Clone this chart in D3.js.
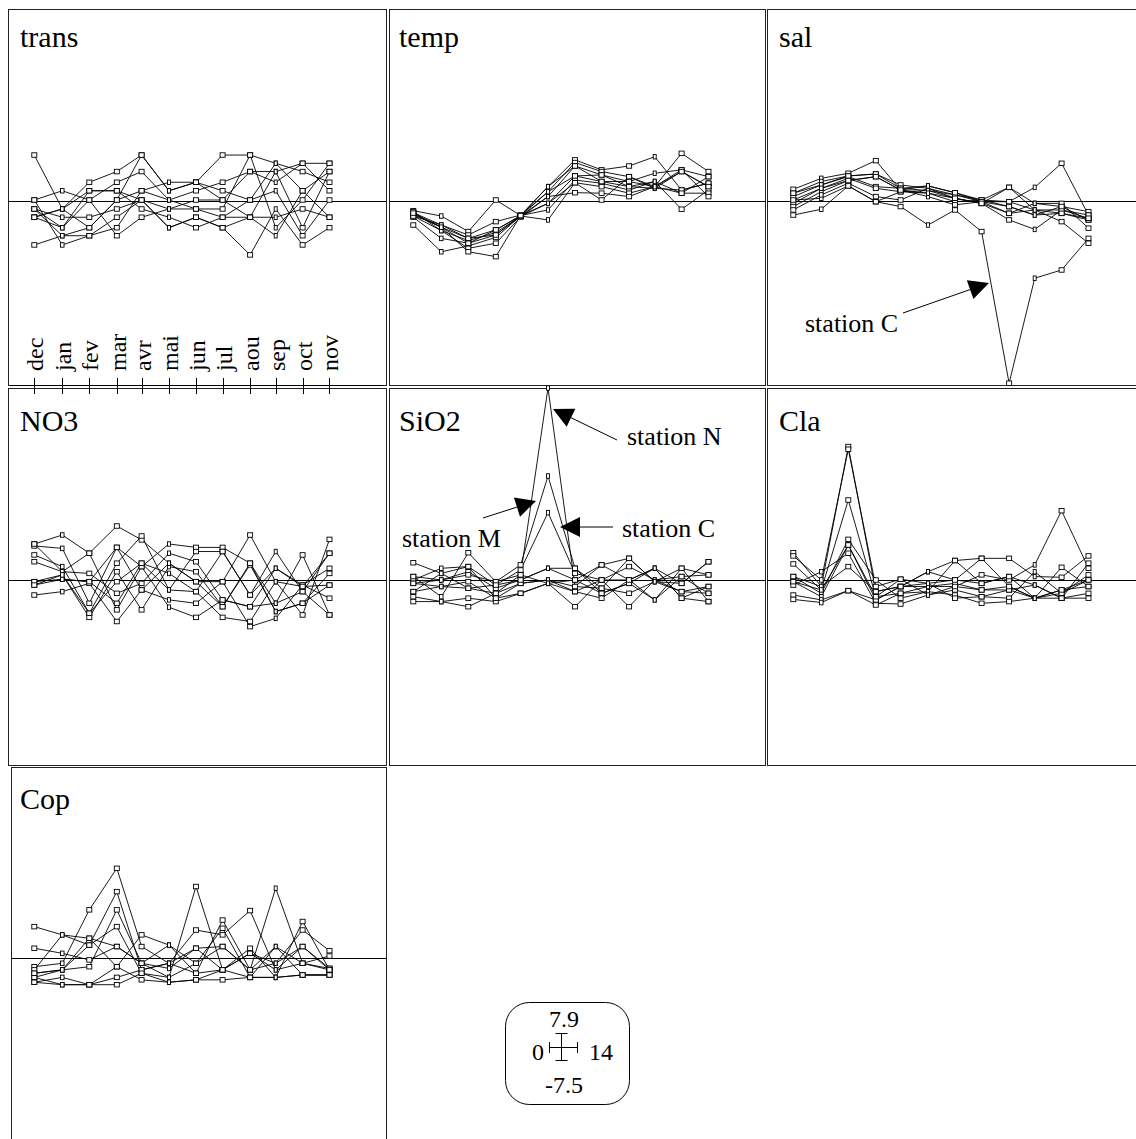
<!DOCTYPE html>
<html>
<head>
<meta charset="utf-8">
<script src="https://cdn.jsdelivr.net/npm/d3@7"></script>
<style>
  body { margin: 0; background: #fff; }
  svg { display: block; }
  text { font-family: "Liberation Serif", "Times New Roman", Times, serif; fill: #000; }
</style>
</head>
<body>
<svg id="chart" width="1136" height="1139"></svg>
<script>
// Sampling months and their position on the time axis (0..14)
const months = ["dec", "jan", "fev", "mar", "avr", "mai", "jun", "jul", "aou", "sep", "oct", "nov"];
const monthTimes = [0.974, 2.011, 3.011, 4.03, 4.948, 5.963, 6.963, 7.948, 8.967, 9.915, 10.911, 11.907];

// Standardised values, one row per station, one column per month
const trans = [
  [1.89, -0.33, 0.77, 1.21, 1.89, 0.42, 0.77, 1.89, 1.89, 1.55, 0.42, 1.21],
  [0.04, 0.42, 0.04, 0.77, 1.21, 0.04, 0.42, 0.77, 1.21, 1.21, 1.55, 1.55],
  [0.04, -1.81, -1.43, -1.10, 0.42, 0.77, 0.77, 0.42, 0.04, 1.55, 1.21, 0.77],
  [-0.33, -1.43, -1.10, 0.04, 1.89, 0.42, 0.77, 0.04, -0.67, 1.21, -1.10, 1.21],
  [-0.33, -0.67, -0.67, -0.33, 0.04, -0.33, 0.04, 0.04, 1.21, 0.77, 1.55, 0.42],
  [-0.67, -0.33, 0.42, 0.42, -0.33, -0.67, -1.10, -0.67, 0.04, 0.42, -1.43, 0.04],
  [-0.67, -1.10, 0.42, 0.42, 0.04, -1.10, -0.67, -1.10, -2.22, -0.33, -1.81, -1.10],
  [-1.81, -1.43, -1.43, -0.67, 0.04, -1.10, -0.67, -1.10, -0.67, -0.67, -0.33, -0.67],
  [-0.33, -1.10, 0.04, -1.43, -0.67, -0.33, -0.33, -0.33, 1.89, -1.10, 0.04, 1.55],
  [-0.67, -0.33, -1.10, 0.04, 0.42, 0.04, -0.33, -0.67, -0.67, -1.43, 0.42, -0.67]
];
const temp = [
  [-0.40, -0.62, -1.26, 0.04, -0.60, 0.59, 1.69, 1.28, 1.44, 1.82, 0.45, 0.73],
  [-0.48, -0.99, -1.40, -0.85, -0.58, 0.38, 1.58, 1.21, 1.00, 0.59, 1.96, 1.21],
  [-0.53, -1.08, -1.54, -1.19, -0.62, 0.18, 1.44, 1.07, 0.80, 1.14, 1.28, 1.00],
  [-0.62, -1.22, -1.63, -1.30, -0.64, -0.10, 1.03, 0.80, 0.59, 0.52, 1.21, 0.59],
  [-0.67, -1.54, -1.74, -1.40, -0.60, -0.37, 0.86, 0.73, 0.45, 0.80, -0.34, 0.45],
  [-0.99, -2.09, -1.85, -1.50, -0.62, -0.78, 0.75, 0.59, 0.32, 0.59, 0.32, 0.32],
  [-0.45, -1.22, -1.95, -1.74, -0.66, 0.18, 0.34, 0.32, 0.18, 0.59, 1.28, 0.18],
  [-0.55, -1.08, -2.09, -2.29, -0.60, -0.10, 0.75, 0.04, 1.00, 0.52, 0.45, 0.73],
  [-0.62, -0.99, -1.54, -1.40, -0.62, 0.38, 1.03, 1.07, 0.59, 0.80, 0.32, 1.00],
  [-0.50, -1.08, -1.74, -1.19, -0.60, 0.59, 1.44, 0.80, 0.80, 0.59, 1.21, 0.59]
];
const sal = [
  [0.48, 0.93, 1.14, 1.66, 0.45, 0.62, 0.34, 0.04, 0.56, -0.10, -0.23, -0.44],
  [0.32, 0.80, 1.03, 1.11, 0.66, 0.52, 0.25, -0.03, -0.03, 0.56, 1.55, -0.58],
  [0.04, 0.11, 0.62, -0.03, -0.23, -0.99, -0.37, -1.26, -7.50, -3.18, -2.84, -1.54],
  [0.18, 0.66, 1.00, 0.59, 0.52, 0.43, 0.11, -0.10, 0.56, -0.37, -0.37, -0.71],
  [-0.10, 0.52, 0.93, 0.52, 0.38, 0.32, -0.03, 0.04, -0.23, -0.58, -0.51, -0.78],
  [-0.23, 0.38, 0.84, 1.00, 0.45, 0.18, -0.16, -0.03, -0.51, -0.10, -0.10, -1.12],
  [-0.37, 0.25, 0.73, 0.18, 0.04, 0.52, 0.11, -0.10, -0.78, -1.17, -0.37, -0.58],
  [-0.58, -0.34, 0.62, -0.03, 0.38, 0.43, 0.25, 0.04, -0.03, -0.37, -0.85, -1.74],
  [0.32, 0.66, 1.03, 1.11, 0.52, 0.62, 0.34, -0.03, -0.23, -0.58, -0.23, -0.78],
  [0.04, 0.52, 0.84, 1.00, 0.45, 0.32, 0.11, -0.10, -0.51, -0.37, -0.51, -0.71]
];
const no3 = [
  [1.48, 1.85, 1.10, 2.22, 1.65, 0.69, -0.07, -0.07, 1.85, -0.07, -1.44, 1.67],
  [1.40, 1.30, -0.96, 1.34, 0.55, 1.48, 1.34, 1.34, 0.69, -0.96, 1.03, -1.44],
  [1.03, 0.55, -1.37, 0.69, 1.81, -0.41, 1.17, 1.17, -0.62, 1.17, -0.48, 1.10],
  [0.75, 0.34, 0.27, -0.55, -0.14, 1.10, 0.75, -0.82, -1.10, 0.48, -0.21, 0.48],
  [-0.07, 0.21, -1.54, 0.34, -1.23, 0.55, 0.34, -1.10, 0.62, -1.30, -0.96, 0.27],
  [-0.21, 0.03, -0.07, -0.96, 0.69, 0.27, -0.48, -1.54, -1.71, -0.07, -0.27, -0.21],
  [-0.62, -0.48, -0.14, -1.71, -0.41, -0.82, -0.96, -0.07, -1.92, -1.58, -0.21, -0.75],
  [1.48, 0.34, 1.10, -1.23, 0.55, -1.12, -1.54, -0.82, -1.10, -0.96, -0.48, -1.44],
  [-0.07, 0.03, -0.07, 1.34, -0.41, 0.69, -0.07, -1.10, 0.69, -1.30, -0.96, -0.21],
  [-0.21, 0.21, -1.37, -0.07, 0.69, -0.41, -0.48, 1.17, -0.62, 0.48, -0.27, 1.10]
];
const sio2 = [
  [0.71, 0.27, -0.34, -0.55, 0.21, 7.90, -0.27, 0.62, 0.00, 0.48, -0.14, 0.75],
  [0.14, -0.69, 1.12, -0.07, 0.62, 4.28, 0.48, -0.34, 0.89, -0.07, 0.48, 0.21],
  [0.00, 0.48, 0.55, -0.21, 0.41, 2.77, 0.27, 0.00, 0.55, 0.00, -0.48, -0.27],
  [-0.14, 0.00, 0.34, -0.34, 0.00, 0.48, 0.00, -0.55, -0.14, -0.82, 0.14, -0.55],
  [-0.48, -0.27, -0.07, -0.75, -0.14, 0.00, -0.48, -0.75, 0.00, 0.48, -0.75, -0.89],
  [-0.69, -0.89, -0.75, -0.89, -0.55, -0.14, -1.10, 0.00, -1.10, 0.00, 0.14, 0.21],
  [-0.89, -0.89, -1.10, -0.55, -0.14, 0.00, -0.27, -0.34, -0.55, -0.07, -0.48, -0.55],
  [0.14, 0.00, 0.21, -0.07, 0.21, -0.14, 0.00, 0.62, 0.89, -0.07, -0.14, 0.75],
  [-0.14, -0.27, -0.34, -0.21, 0.00, 0.48, 0.48, -0.55, -0.14, 0.48, -0.75, -0.27],
  [-0.48, 0.27, 0.55, -0.75, -0.55, -0.14, -0.48, 0.00, 0.00, -0.82, 0.48, -0.89]
];
const cla = [
  [1.12, -0.27, 5.49, -0.48, -0.27, 0.34, 0.80, -0.14, 0.14, -0.21, -0.75, 0.69],
  [0.99, 0.00, 5.38, -0.27, 0.03, -0.14, 0.00, 0.89, 0.89, 0.14, 0.11, 0.99],
  [0.66, -0.41, 3.29, -0.69, -0.55, -0.27, -0.27, 0.21, 0.00, 0.62, 2.85, 0.48],
  [0.14, -0.55, 1.67, 0.00, -0.75, -0.48, 0.80, 0.89, -0.27, -0.75, -0.55, 0.21],
  [-0.07, -0.69, 1.44, -0.82, -0.27, -0.27, -0.14, -0.41, -0.41, -0.75, -0.41, -0.27],
  [-0.21, 0.34, 1.10, -0.96, -0.99, -0.62, -0.41, -0.69, -0.75, 0.34, -0.55, 0.00],
  [-0.62, -0.82, -0.44, -1.03, -0.55, -0.48, -0.62, -0.96, -0.89, -0.75, -0.75, -0.75],
  [-0.80, -0.93, -0.44, -0.82, -0.27, -0.14, -0.75, -0.69, -0.41, -0.21, -0.75, -0.55],
  [0.14, -0.27, 0.55, -0.48, -0.27, 0.34, 0.00, -0.14, 0.14, -0.75, 0.52, -0.27],
  [-0.07, -0.41, 1.44, -0.69, 0.03, -0.62, -0.27, -0.41, -0.27, -0.75, -0.41, 0.00]
];
const cop = [
  [1.29, 0.95, 0.81, -0.36, 0.95, 0.53, -0.22, 0.47, -0.49, 0.47, -0.22, -0.43],
  [0.40, 0.19, -0.08, 0.47, -0.22, -0.43, 0.40, -0.49, 0.19, -0.22, 1.15, 0.30],
  [-0.36, -0.22, 1.98, 3.69, 0.47, -0.22, 1.15, 0.95, 1.95, -0.49, 0.47, -0.49],
  [-0.49, 0.95, 0.53, 2.73, -0.49, -0.22, -0.63, 1.56, -0.49, 2.87, -0.22, 0.08],
  [-0.63, -0.49, -0.36, 1.98, -0.22, -0.80, 2.94, -0.49, 0.40, -0.80, 1.50, -0.49],
  [-0.80, -0.49, 0.53, 1.29, -0.63, -0.80, -0.22, 1.22, -0.80, 0.47, -0.70, -0.70],
  [-1.00, -0.80, -1.10, -0.36, -0.90, -1.00, -0.90, -0.90, -0.80, -0.80, -0.70, -0.70],
  [-0.80, -1.10, -1.10, -0.80, -0.49, -0.22, 0.40, 0.47, -0.49, -0.22, 0.47, -0.43],
  [-0.63, -0.49, 0.81, 0.47, -0.22, 0.53, -0.63, -0.49, 0.19, -0.49, -0.22, -0.49],
  [-1.00, -1.10, -1.10, -1.10, -0.63, -1.00, -0.90, -0.49, -0.80, -0.80, -0.70, -0.70]
];

const variableNames = ["trans", "temp", "sal", "NO3", "SiO2", "Cla", "Cop"];
const variableValues = [trans, temp, sal, no3, sio2, cla, cop];

// Common scale of all panels
const xDomain = [0, 14];
const yDomain = [-7.5, 7.9];
const scaleLabels = { top: "7.9", bottom: "-7.5", left: "0", right: "14" };

// Annotations: panel name, label, arrow geometry relative to the panel origin
const annotations = [
  { panel: "sal",  label: "station C", text: [38, 323],  from: [136, 304], tip: [222, 274] },
  { panel: "SiO2", label: "station N", text: [240, 57],  from: [230, 52],  tip: [166, 21] },
  { panel: "SiO2", label: "station M", text: [15, 159],  from: [96, 130],  tip: [149, 113] },
  { panel: "SiO2", label: "station C", text: [235, 149], from: [226, 139], tip: [173, 139] }
];

// ---- layout ----
const colX = [8, 387, 767];
const rowY = [9, 388, 766];
const plotW = 378, plotH = 374.2;
const frameL = [8.5, 389.5, 767.5], frameR = [386.5, 765.5, 1142];
const frameT = [9.5, 388.5, 767.5], frameB = [385.5, 765.5, 1145];
const titleBase = [47, 431, 809];
const markerW = [5, 3.5, 5, 5, 5, 3, 5, 5, 5, 3, 5, 5];
const markerH = 4.5;

const svg = d3.select("#chart");

variableNames.forEach((name, i) => {
  const col = i % 3, row = Math.floor(i / 3);
  const ox = colX[col], oy = rowY[row];
  const x = d3.scaleLinear().domain(xDomain).range([ox, ox + plotW]);
  const y = d3.scaleLinear().domain(yDomain).range([oy + plotH, oy]);
  const g = svg.append("g").attr("class", "panel " + name);

  // frame
  const fl = (name === "Cop") ? 11.5 : frameL[col];
  g.append("rect")
    .attr("x", fl).attr("y", frameT[row])
    .attr("width", frameR[col] - fl).attr("height", frameB[row] - frameT[row])
    .attr("fill", "none").attr("stroke", "#222").attr("stroke-width", 1);

  // zero line
  const zy = Math.round(y(0)) + 0.5;
  g.append("line")
    .attr("x1", fl).attr("x2", frameR[col]).attr("y1", zy).attr("y2", zy)
    .attr("stroke", "#000").attr("stroke-width", 1);

  // title
  g.append("text").attr("x", ox + 12).attr("y", titleBase[row])
    .attr("font-size", 30).text(name);

  // station trajectories
  const line = d3.line().x((d, j) => x(monthTimes[j])).y(d => y(d));
  const series = variableValues[i];
  g.selectAll("path.traj").data(series).join("path")
    .attr("class", "traj")
    .attr("d", line)
    .attr("fill", "none").attr("stroke", "#000").attr("stroke-width", 0.9);

  series.forEach(s => {
    g.selectAll(null).data(s).join("rect")
      .attr("x", (d, j) => x(monthTimes[j]) - markerW[j] / 2)
      .attr("y", d => y(d) - markerH / 2)
      .attr("width", (d, j) => markerW[j]).attr("height", markerH)
      .attr("fill", "#fff").attr("stroke", "#000").attr("stroke-width", 0.9);
  });

  // annotations
  annotations.filter(a => a.panel === name).forEach(a => {
    const sx = ox + a.from[0], sy = oy + a.from[1];
    const tx = ox + a.tip[0], ty = oy + a.tip[1];
    const dx = tx - sx, dy = ty - sy, len = Math.hypot(dx, dy);
    const ux = dx / len, uy = dy / len;
    const hl = 20, hw = 10;
    const bx = tx - ux * hl, by = ty - uy * hl;
    g.append("line").attr("x1", sx).attr("y1", sy).attr("x2", bx).attr("y2", by)
      .attr("stroke", "#000").attr("stroke-width", 1);
    g.append("path")
      .attr("d", `M${tx},${ty}L${bx - uy * hw},${by + ux * hw}L${bx + uy * hw},${by - ux * hw}Z`)
      .attr("fill", "#000");
    g.append("text").attr("x", ox + a.text[0]).attr("y", oy + a.text[1])
      .attr("font-size", 26).text(a.label);
  });

  // month axis drawn in the first panel
  if (i === 0) {
    const axisY = 385.5;
    g.append("line").attr("x1", 11).attr("x2", 383).attr("y1", axisY).attr("y2", axisY)
      .attr("stroke", "#000").attr("stroke-width", 1);
    months.forEach((m, j) => {
      const mx = Math.round(x(monthTimes[j])) + 0.5;
      g.append("line").attr("x1", mx).attr("x2", mx).attr("y1", 378).attr("y2", 394)
        .attr("stroke", "#000").attr("stroke-width", 1);
      g.append("text")
        .attr("transform", `translate(${mx + 8},371) rotate(-90)`)
        .attr("font-size", 24).text(m);
    });
  }
});

// scale key
const key = svg.append("g").attr("class", "scale-key");
key.append("rect").attr("x", 505.5).attr("y", 1002.5).attr("width", 124).attr("height", 102)
  .attr("rx", 24).attr("ry", 24).attr("fill", "#fff").attr("stroke", "#000").attr("stroke-width", 1);
const kc = { x: 561.5, y: 1047.5 };
const crossPaths = [
  [[549.5, 1047.5], [577.5, 1047.5]],
  [[561.5, 1033.5], [561.5, 1060.5]],
  [[549.5, 1042], [549.5, 1053]],
  [[577.5, 1042], [577.5, 1053]],
  [[555.5, 1033.5], [567.5, 1033.5]],
  [[555.5, 1060.5], [567.5, 1060.5]]
];
crossPaths.forEach(p => key.append("line")
  .attr("x1", p[0][0]).attr("y1", p[0][1]).attr("x2", p[1][0]).attr("y2", p[1][1])
  .attr("stroke", "#000").attr("stroke-width", 1));
key.append("text").attr("x", 564).attr("y", 1027).attr("text-anchor", "middle").attr("font-size", 24).text(scaleLabels.top);
key.append("text").attr("x", 564).attr("y", 1093).attr("text-anchor", "middle").attr("font-size", 24).text(scaleLabels.bottom);
key.append("text").attr("x", 544).attr("y", 1060).attr("text-anchor", "end").attr("font-size", 24).text(scaleLabels.left);
key.append("text").attr("x", 589).attr("y", 1060).attr("text-anchor", "start").attr("font-size", 24).text(scaleLabels.right);
</script>
</body>
</html>
